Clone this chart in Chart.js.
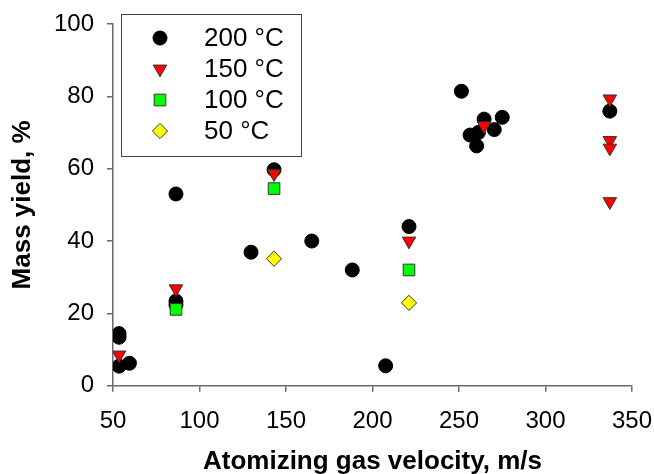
<!DOCTYPE html>
<html>
<head>
<meta charset="utf-8">
<title>Mass yield</title>
<script src="https://cdn.jsdelivr.net/npm/chart.js@4"></script>
<style>
    body { margin: 0; background: #fff; }
    #wrap { width: 654px; height: 474px; }
</style>
</head>
<body>
<div id="wrap"><canvas id="yieldChart" width="654" height="474"></canvas></div>
<script>
// Data

var seriesNames = ['200 °C', '150 °C', '100 °C', '50 °C'];

var vel200 = [53.5, 53.5, 53.5, 59.5, 86.4, 86.4, 86.4, 129.8, 143.1, 164.9, 188.3, 207.6, 221.1, 251.4, 256.4, 260.2, 261.2, 264.5, 270.4, 275.0, 337.2];
var yield200 = [14.4, 13.4, 5.4, 6.2, 53.0, 23.4, 22.4, 36.9, 59.7, 40.0, 32.0, 5.5, 44.0, 81.4, 69.3, 66.3, 70.0, 73.7, 70.8, 74.2, 75.9];

var vel150 = [53.5, 86.4, 143.1, 221.1, 264.5, 337.2, 337.2, 337.2, 337.2];
var yield150 = [8.5, 26.8, 58.6, 40.0, 71.9, 79.3, 67.8, 65.7, 50.9];

var vel100 = [86.4, 143.1, 221.1];
var yield100 = [21.1, 54.5, 32.0];

var vel50 = [143.1, 221.1];
var yield50 = [35.1, 22.9];

var xTicks = [50, 100, 150, 200, 250, 300, 350];
var yTicks = [0, 20, 40, 60, 80, 100];

function toPoints(xs, ys)
{
    return xs.map(function (x, i)
    {
        return { x: x, y: ys[i] };
    });
}

function series(name, xs, ys, style, radius, rotation, fill, stroke, order)
{
    return {
        label: name,
        data: toPoints(xs, ys),
        pointStyle: style,
        pointRadius: radius,
        pointHoverRadius: radius,
        pointRotation: rotation,
        pointBackgroundColor: fill,
        pointBorderColor: stroke,
        pointBorderWidth: 1,
        backgroundColor: fill,
        borderColor: stroke,
        order: order
    };
}

var axisColor = '#6a6a6a';
var font = 'Liberation Sans, Arial, sans-serif';

// Legend box inside the plot area

var boxLegend = {
    id: 'boxLegend',
    afterDraw: function (chart)
    {
        var ctx = chart.ctx;
        var area = chart.chartArea;
        var x0 = area.left + 8;
        var y0 = area.top - 10;

        ctx.save();
        ctx.fillStyle = '#fff';
        ctx.strokeStyle = '#444';
        ctx.lineWidth = 1;
        ctx.fillRect(x0, y0, 180, 142);
        ctx.strokeRect(x0 + 0.5, y0 + 0.5, 180, 142);

        ctx.font = '26px ' + font;
        ctx.textBaseline = 'middle';
        ctx.textAlign = 'left';

        chart.data.datasets.forEach(function (ds, i)
        {
            var cy = y0 + 24 + i * 31;
            ctx.fillStyle = ds.pointBackgroundColor;
            ctx.strokeStyle = ds.pointBorderColor;
            ctx.lineWidth = ds.pointBorderWidth;
            Chart.helpers.drawPoint(ctx,
            {
                pointStyle: ds.pointStyle,
                radius: ds.pointRadius,
                rotation: ds.pointRotation,
                borderWidth: ds.pointBorderWidth
            }, x0 + 39, cy);
            ctx.fillStyle = '#000';
            ctx.fillText(ds.label, x0 + 83, cy + 1);
        });
        ctx.restore();
    }
};

// Chart

var ctx = document.getElementById('yieldChart').getContext('2d');
var myChart = new Chart(ctx,
{
    type: 'scatter',
    data:
    {
        datasets: [
            series(seriesNames[0], vel200, yield200, 'circle', 7, 0, '#000', '#000', 4),
            series(seriesNames[1], vel150, yield150, 'triangle', 7.8, 180, '#ff0000', '#333', 3),
            series(seriesNames[2], vel100, yield100, 'rect', 8.2, 0, '#00ff00', '#333', 2),
            series(seriesNames[3], vel50, yield50, 'rectRot', 7.6, 0, '#ffff00', '#333', 1)
        ]
    },
    options:
    {
        responsive: false,
        animation: false,
        devicePixelRatio: 1,
        layout: { padding: { top: 24, right: 22, left: 0, bottom: 0 } },
        plugins:
        {
            legend: { display: false },
            tooltip: { enabled: false }
        },
        scales:
        {
            x:
            {
                type: 'linear',
                min: xTicks[0],
                max: xTicks[xTicks.length - 1],
                afterBuildTicks: function (scale)
                {
                    scale.ticks = xTicks.map(function (v) { return { value: v }; });
                },
                afterFit: function (scale)
                {
                    scale.height = 88.3;
                    scale.paddingLeft = 0;
                    scale.paddingRight = 0;
                },
                ticks:
                {
                    color: '#000',
                    padding: 15,
                    font: { family: font, size: 24 }
                },
                grid:
                {
                    drawOnChartArea: false,
                    color: axisColor,
                    lineWidth: 1.5,
                    tickLength: 6
                },
                border: { color: axisColor, width: 1.5 },
                title:
                {
                    display: true,
                    text: 'Atomizing gas velocity, m/s',
                    color: '#000',
                    padding: { top: 0, bottom: -1 },
                    font: { family: font, size: 26, weight: 'bold', lineHeight: 1 }
                }
            },
            y:
            {
                type: 'linear',
                min: yTicks[0],
                max: yTicks[yTicks.length - 1],
                afterBuildTicks: function (scale)
                {
                    scale.ticks = yTicks.map(function (v) { return { value: v }; });
                },
                afterFit: function (scale)
                {
                    scale.width = 113;
                    scale.paddingTop = 0;
                    scale.paddingBottom = 0;
                },
                ticks:
                {
                    color: '#000',
                    padding: 13,
                    font: { family: font, size: 24 }
                },
                grid:
                {
                    drawOnChartArea: false,
                    color: axisColor,
                    lineWidth: 1.5,
                    tickLength: 6
                },
                border: { color: axisColor, width: 1.5 },
                title:
                {
                    display: true,
                    text: 'Mass yield, %',
                    color: '#000',
                    padding: { top: 10, bottom: 0 },
                    font: { family: font, size: 26, weight: 'bold', lineHeight: 1 }
                }
            }
        }
    },
    plugins: [boxLegend]
});
</script>
</body>
</html>
